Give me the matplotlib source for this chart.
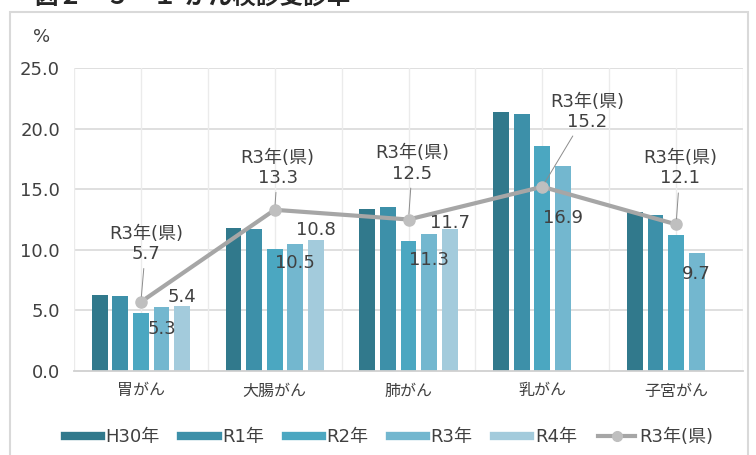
import numpy as np
import matplotlib
matplotlib.use('Agg')
import matplotlib.pyplot as plt
from matplotlib.lines import Line2D
from matplotlib.patches import Rectangle

plt.rcParams['font.family'] = ['DejaVu Sans', 'Noto Sans CJK JP']

categories = ['胃がん', '大腸がん', '肺がん', '乳がん', '子宮がん']
series_names = ['H30年', 'R1年', 'R2年', 'R3年', 'R4年']
h30 = [6.3, 11.8, 13.4, 21.4, 13.1]
r1 = [6.2, 11.7, 13.5, 21.2, 12.9]
r2 = [4.8, 10.1, 10.7, 18.6, 11.2]
r3 = [5.3, 10.5, 11.3, 16.9, 9.7]
r4 = [5.4, 10.8, 11.7, None, None]
pref_r3 = [5.7, 13.3, 12.5, 15.2, 12.1]
line_name = 'R3年(県)'
yticks = [0, 5, 10, 15, 20, 25]

colors = ['#31798c', '#3d90a9', '#4ba7c1', '#73b7cf', '#a3cbdc']
text_col = '#404040'

fig = plt.figure(figsize=(7.56, 4.55), dpi=100)
W, H = 756, 455
ax = fig.add_axes([74 / W, (H - 371) / H, (743 - 74) / W, (371 - 68) / H])

x = np.arange(len(categories))
step, width = 0.154, 0.118
all_series = [h30, r1, r2, r3, r4]
for i, vals in enumerate(all_series):
    v = np.array([np.nan if a is None else a for a in vals], dtype=float)
    ax.bar(x + (i - 2) * step, v, width, color=colors[i], zorder=2)

ax.plot(x, pref_r3, color='#a6a6a6', lw=3, marker='o', markersize=8,
        markerfacecolor='#bfbfbf', markeredgecolor='#bfbfbf', zorder=4)

# data labels for R3 / R4 bars (pixel offsets from bar top)
r3_off = [-22, -19, -26, -52, -21]
r4_off = [9, 10, 6]
for j, v in enumerate(r3):
    ax.annotate(f'{v:.1f}', (x[j] + 1 * step, v), xytext=(0, r3_off[j]),
                textcoords='offset pixels', ha='center', va='center',
                fontsize=13, color=text_col, zorder=5)
for j, v in enumerate(r4):
    if v is None:
        continue
    ax.annotate(f'{v:.1f}', (x[j] + 2 * step, v), xytext=(0, r4_off[j]),
                textcoords='offset pixels', ha='center', va='center',
                fontsize=13, color=text_col, zorder=5)

# callouts for the prefecture line
call_off = [(5, 58), (3, 42), (4, 56), (45, 75), (4, 56)]
for j, v in enumerate(pref_r3):
    ax.annotate(f'{line_name}\n{v:.1f}', (x[j], v), xytext=call_off[j],
                textcoords='offset pixels', ha='center', va='center',
                multialignment='center', fontsize=13, color=text_col,
                linespacing=1.15, zorder=5,
                arrowprops=dict(arrowstyle='-', color='#8c8c8c', lw=0.7,
                                shrinkA=2, shrinkB=4))

ax.set_xlim(-0.5, 4.5)
ax.set_ylim(0, 25)
ax.set_yticks(yticks)
ax.set_yticklabels([f'{t:.1f}' for t in yticks], fontsize=13, color=text_col)
ax.set_xticks(x)
ax.set_xticklabels(categories, fontsize=11.5, color=text_col)
ax.tick_params(axis='both', length=0)
ax.tick_params(axis='x', pad=9)
ax.tick_params(axis='y', pad=10)
for s in ['top', 'right', 'left']:
    ax.spines[s].set_visible(False)
ax.spines['bottom'].set_color('#d0d0d0')
ax.spines['bottom'].set_linewidth(1.3)
for yv in yticks[1:]:
    ax.axhline(yv, color='#d9d9d9', lw=1.2, zorder=0)
for xv in np.arange(-0.5, 4.51, 0.5):
    ax.axvline(xv, color='#ebebeb', lw=1.0, zorder=0)

fig.text(42 / W, (H - 37) / H, '%', ha='center', va='center', fontsize=13, color=text_col)
# title is cropped at the top edge in the original
fig.text(35 / W, 1.008, '図２－５－１ がん検診受診率', ha='left', va='center',
         fontsize=17, fontweight='bold', color='#262626')
fig.patches.append(Rectangle((10 / W, -0.02), 738 / W, (H - 12) / H + 0.02,
                             transform=fig.transFigure, fill=False,
                             edgecolor='#d9d9d9', lw=1.5))

handles = [Line2D([0], [0], color=c, lw=6) for c in colors]
handles.append(Line2D([0], [0], color='#a6a6a6', lw=3, marker='o', markersize=7,
                      markerfacecolor='#bfbfbf', markeredgecolor='#bfbfbf'))
fig.legend(handles, series_names + [line_name], loc='center',
           bbox_to_anchor=(389 / W, (H - 437) / H), ncol=6, frameon=False,
           fontsize=13, handlelength=2.0, handletextpad=0.25, columnspacing=1.2,
           labelcolor=text_col)

fig.savefig('out.png', dpi=100)
